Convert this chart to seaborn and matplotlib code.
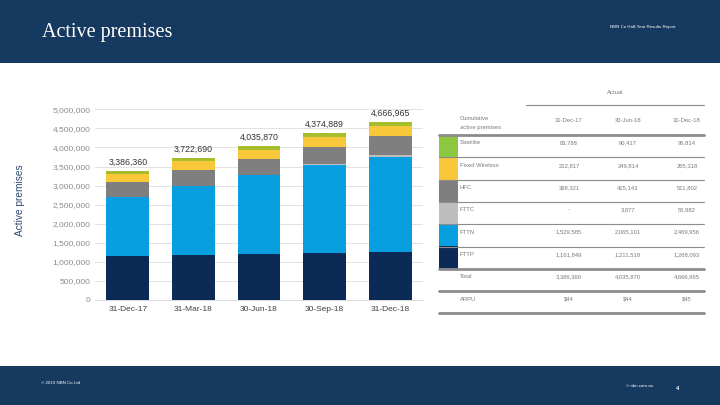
import matplotlib
matplotlib.use("Agg")
import matplotlib.pyplot as plt
import seaborn as sns
import pandas as pd
import numpy as np
from matplotlib.patches import Rectangle
from matplotlib.lines import Line2D

# ---------------- data ----------------
dates = ["31-Dec-17", "31-Mar-18", "30-Jun-18", "30-Sep-18", "31-Dec-18"]
technologies = ["FTTP", "FTTN", "FTTC", "HFC", "Fixed Wireless", "Satellite"]
fttp = [1161849, 1179605, 1211518, 1239298, 1268093]
fttn = [1529585, 1817960, 2065101, 2301218, 2469956]
fttc = [0, 0, 3877, 28415, 55982]
hfc = [398321, 406207, 415143, 455316, 511802]
fixed_wireless = [212817, 231406, 249814, 257502, 265318]
satellite = [83788, 87512, 90417, 93140, 95814]
totals = [3386360, 3722690, 4035870, 4374889, 4666965]
arpu = ["$44", "$44", "$45"]
table_cols = [0, 2, 4]
yticks = list(range(0, 5000001, 500000))

colors = {
    "FTTP": "#0B2A55",
    "FTTN": "#089FE0",
    "FTTC": "#BEBEBE",
    "HFC": "#7F7F7F",
    "Fixed Wireless": "#F8C73A",
    "Satellite": "#A4BF2B",
}
swatch = dict(colors)
swatch["Satellite"] = "#8DC63F"

series = {"FTTP": fttp, "FTTN": fttn, "FTTC": fttc, "HFC": hfc,
          "Fixed Wireless": fixed_wireless, "Satellite": satellite}

HEADER = "#16395F"

sns.set_theme(style="white")
plt.rcParams["font.family"] = ["Liberation Sans", "DejaVu Sans"]

fig = plt.figure(figsize=(7.2, 4.05), dpi=100)
fig.patch.set_facecolor("white")

# header / footer bands
fig.add_artist(Rectangle((0, 1 - 63 / 405), 1, 63 / 405, transform=fig.transFigure,
                         facecolor=HEADER, edgecolor="none", zorder=0))
fig.add_artist(Rectangle((0, 0), 1, 39 / 405, transform=fig.transFigure,
                         facecolor=HEADER, edgecolor="none", zorder=0))
fig.text(42 / 720, 1 - 33 / 405, "Active premises", color="white", fontsize=14.5,
         family=["Liberation Serif", "DejaVu Serif"], va="center", ha="left")
fig.text(643 / 720, 1 - 27 / 405, "NBN Co Half-Year Results Report", color="white",
         fontsize=3.2, ha="center", va="center")
fig.text(41 / 720, 1 - 383 / 405, "© 2019 NBN Co Ltd", color="white", fontsize=3.2,
         ha="left", va="center")
fig.text(640 / 720, 1 - 386 / 405, "© nbn.com.au", color="white", fontsize=3.2,
         ha="center", va="center")
fig.text(677 / 720, 1 - 388 / 405, "4", color="white", fontsize=4, ha="center",
         va="center", fontweight="bold")

# ---------------- chart ----------------
ax = fig.add_axes([95 / 720, 1 - 300 / 405, (423 - 95) / 720, (300 - 109.3) / 405])
cum = np.zeros(len(dates))
cums = {}
for t in technologies:
    cum = cum + np.array(series[t], dtype=float)
    cums[t] = cum.copy()
for t in technologies[::-1]:
    df = pd.DataFrame({"date": dates, "value": cums[t]})
    sns.barplot(data=df, x="date", y="value", order=dates, color=colors[t],
                width=0.65, saturation=1, ax=ax, zorder=3, linewidth=0,
                edgecolor="none")

ax.set_ylim(0, 5000000)
ax.set_xlim(-0.5, len(dates) - 0.5)
ax.set_yticks(yticks)
ax.set_yticklabels([f"{v:,}" for v in yticks], fontsize=6, color="#8C8C8C")
ax.tick_params(axis="x", labelsize=6, colors="#404040", length=0, pad=4)
ax.tick_params(axis="y", length=0, pad=3)
ax.grid(axis="y", color="#E2E2E2", linewidth=0.7, zorder=0)
ax.set_axisbelow(True)
for s in ["top", "right", "left"]:
    ax.spines[s].set_visible(False)
ax.spines["bottom"].set_color("#D9D9D9")
ax.spines["bottom"].set_linewidth(0.7)
ax.set_xlabel("")
ax.set_ylabel("")
for i, tot in enumerate(totals):
    ax.annotate(f"{tot:,}", (i, cums["Satellite"][i]), xytext=(0, 3),
                textcoords="offset points", ha="center", va="bottom",
                fontsize=6.3, color="#333333", clip_on=False)
fig.text(20 / 720, 1 - 200 / 405, "Active premises", rotation=90, fontsize=7.3,
         color="#2E4A6B", ha="center", va="center")

# ---------------- table ----------------
def fx(x):
    return x / 720

def fy(y):
    return 1 - y / 405

TXT = "#7A7A7A"
FS = 4.2
col_x = [569, 628, 687]
fig.text(fx(615), fy(93), "Actual", fontsize=FS, color=TXT, ha="center", va="center")
fig.add_artist(Line2D([fx(526), fx(704)], [fy(105), fy(105)], transform=fig.transFigure,
                      color="#8C8C8C", linewidth=0.8))
fig.text(fx(460), fy(123), "Cumulative\nactive premises", fontsize=FS, color=TXT,
         ha="left", va="center", linespacing=1.8)
for cx, ci in zip(col_x, table_cols):
    fig.text(fx(cx), fy(121), dates[ci], fontsize=FS, color=TXT, ha="center", va="center")
fig.add_artist(Line2D([fx(439), fx(704)], [fy(135), fy(135)], transform=fig.transFigure,
                      color="#8C8C8C", linewidth=2))

row_names = ["Satellite", "Fixed Wireless", "HFC", "FTTC", "FTTN", "FTTP"]
row_top = 135.0
rh = 22.3
for k, name in enumerate(row_names):
    top = row_top + k * rh
    fig.add_artist(Rectangle((fx(439), fy(top + rh)), fx(458) - fx(439), rh / 405,
                             transform=fig.transFigure, facecolor=swatch[name],
                             edgecolor="none"))
    fig.text(fx(460), fy(top + 8), name, fontsize=FS, color=TXT, ha="left", va="center")
    vals = series[name]
    for cx, ci in zip(col_x, table_cols):
        v = vals[ci]
        fig.text(fx(cx), fy(top + 8), f"{v:,}" if v else "-", fontsize=FS, color=TXT,
                 ha="center", va="center")
    lw = 2 if name == "FTTP" else 0.8
    fig.add_artist(Line2D([fx(439), fx(704)], [fy(top + rh), fy(top + rh)],
                          transform=fig.transFigure, color="#8C8C8C", linewidth=lw))

top = row_top + 6 * rh
fig.text(fx(460), fy(top + 8), "Total", fontsize=FS, color=TXT, ha="left", va="center")
for cx, ci in zip(col_x, table_cols):
    fig.text(fx(cx), fy(top + 8), f"{totals[ci]:,}", fontsize=FS, color=TXT,
             ha="center", va="center")
fig.add_artist(Line2D([fx(439), fx(704)], [fy(top + rh), fy(top + rh)],
                      transform=fig.transFigure, color="#8C8C8C", linewidth=2))
top = row_top + 7 * rh
fig.text(fx(460), fy(top + 8), "ARPU", fontsize=FS, color=TXT, ha="left", va="center")
for cx, a in zip(col_x, arpu):
    fig.text(fx(cx), fy(top + 8), a, fontsize=FS, color=TXT, ha="center", va="center")
fig.add_artist(Line2D([fx(439), fx(704)], [fy(top + rh), fy(top + rh)],
                      transform=fig.transFigure, color="#8C8C8C", linewidth=2))

fig.savefig("out.png", dpi=100, facecolor=fig.get_facecolor())
